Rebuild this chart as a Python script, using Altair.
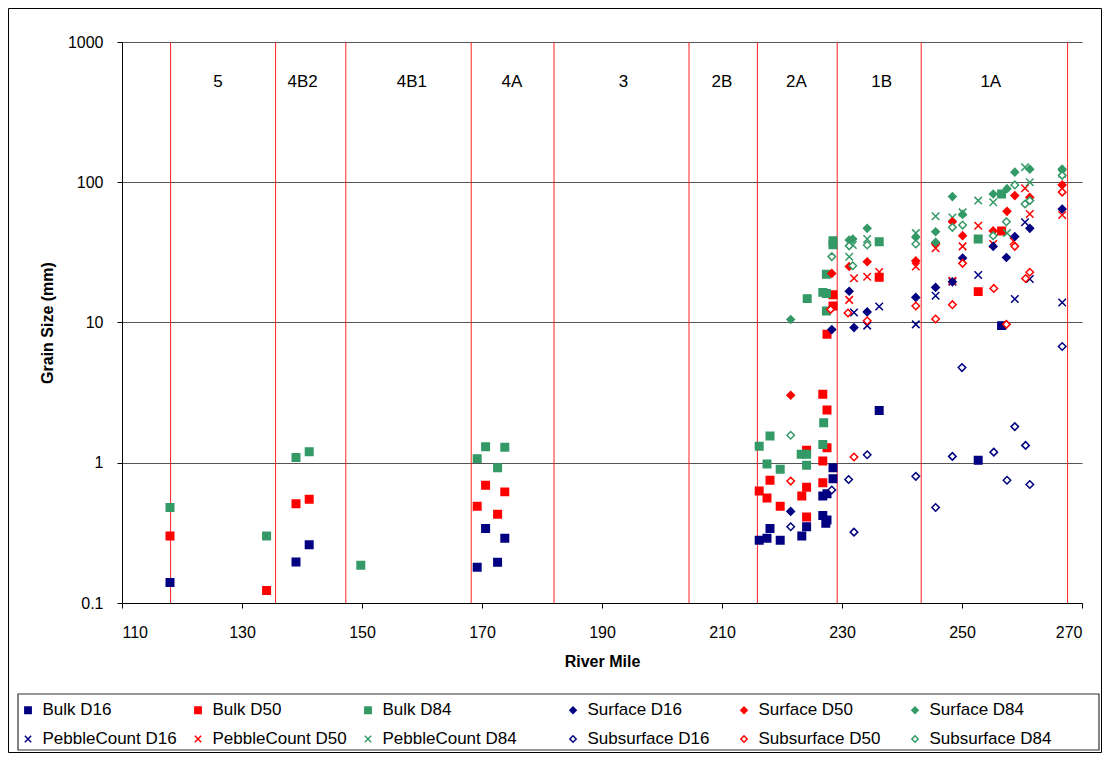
import altair as alt
import pandas as pd

FONT = "Liberation Sans"

# ---- zone boundaries and labels ----
zone_bounds = [118.1, 135.6, 147.3, 168.2, 182.0, 204.5, 215.9, 229.2, 243.2, 267.6]
zone_names = ["5", "4B2", "4B1", "4A", "3", "2B", "2A", "1B", "1A"]
zone_label_mile = [126.0, 140.1, 158.3, 175.0, 193.6, 210.0, 222.4, 236.6, 254.8]

# ---- series data (river mile, grain size mm) ----
bulk_d16_mile = [118.0, 139.0, 141.2, 169.2, 170.6, 172.6, 173.8, 216.2, 217.5, 218.0, 219.7, 223.3, 224.1,
                 226.8, 227.5, 226.8, 227.5, 227.3, 228.5, 228.5, 236.2, 252.7, 256.6]
bulk_d16_mm = [0.14, 0.196, 0.26, 0.18, 0.34, 0.195, 0.29, 0.28, 0.29, 0.34, 0.28, 0.30, 0.35,
               0.58, 0.60, 0.42, 0.39, 0.37, 0.92, 0.77, 2.36, 1.04, 9.5]

bulk_d50_mile = [118.0, 134.1, 139.0, 141.2, 169.2, 170.6, 172.6, 173.8, 216.2, 217.5, 218.0, 219.7, 223.3,
                 224.1, 224.1, 224.1, 226.8, 227.5, 227.5, 226.8, 226.8, 227.5, 228.5, 228.5, 236.2, 252.7, 256.6]
bulk_d50_mm = [0.30, 0.123, 0.51, 0.55, 0.49, 0.69, 0.43, 0.62, 0.63, 0.56, 0.75, 0.49, 0.58,
               0.67, 1.23, 0.41, 3.08, 2.38, 1.28, 1.03, 0.72, 8.25, 15.8, 13.1, 21.0, 16.6, 45.0]

bulk_d84_mile = [118.0, 134.1, 139.0, 141.2, 149.8, 169.2, 170.6, 172.6, 173.8, 216.2, 217.5, 218.0, 219.7,
                 223.2, 224.1, 224.1, 226.8, 226.95, 224.2, 226.8, 227.4, 227.4, 227.4, 228.5, 228.5,
                 236.2, 252.7, 256.6]
bulk_d84_mm = [0.48, 0.30, 1.09, 1.20, 0.186, 1.07, 1.30, 0.92, 1.29, 1.31, 0.98, 1.55, 0.90,
               1.15, 1.15, 0.96, 1.35, 1.93, 14.8, 16.4, 16.1, 22.1, 12.1, 38.3, 35.8,
               37.6, 39.4, 82.5]

surf_d16_mile = [221.45, 228.3, 231.2, 232.0, 234.2, 242.3, 245.6, 248.4, 250.1, 255.2, 257.4, 258.8, 261.3, 266.7]
surf_d16_mm = [0.45, 8.9, 16.7, 9.2, 11.9, 15.1, 17.8, 19.5, 28.8, 34.9, 29.1, 41.0, 46.9, 64.5]

surf_d50_mile = [221.45, 228.3, 231.2, 234.2, 242.3, 245.6, 248.4, 250.1, 255.2, 257.5, 258.8, 261.3, 266.7]
surf_d50_mm = [3.03, 22.4, 25.1, 27.1, 27.5, 36.5, 52.3, 41.6, 45.0, 62.0, 80.3, 78.0, 95.7]

surf_d84_mile = [221.45, 231.2, 231.8, 234.2, 242.3, 245.6, 245.6, 248.4, 250.1, 255.2, 257.5, 258.8, 261.3, 266.7]
surf_d84_mm = [10.5, 38.7, 39.4, 46.9, 40.5, 44.4, 37.3, 79.0, 59.0, 82.5, 90.0, 118.0, 124.0, 124.0]

peb_d16_mile = [232.0, 234.2, 236.2, 242.3, 245.6, 248.4, 252.7, 258.8, 260.5, 261.3, 266.7]
peb_d16_mm = [11.8, 9.5, 13.0, 9.7, 15.5, 19.5, 21.8, 14.7, 51.8, 20.4, 13.9]

peb_d50_mile = [231.2, 232.0, 234.2, 236.2, 242.3, 245.6, 248.4, 250.1, 252.7, 255.2, 258.6, 260.5, 261.3, 266.7]
peb_d50_mm = [14.5, 20.7, 21.2, 22.9, 25.1, 33.8, 19.8, 34.9, 49.0, 36.3, 38.0, 90.6, 59.4, 58.4]

peb_d84_mile = [231.2, 231.8, 234.2, 242.3, 245.6, 248.4, 250.1, 252.7, 255.2, 257.5, 260.5, 261.3, 266.7]
peb_d84_mm = [29.4, 35.7, 39.4, 43.4, 57.2, 56.0, 61.0, 74.0, 72.0, 43.4, 128.0, 100.0, 115.0]

sub_d16_mile = [221.45, 228.3, 231.1, 232.0, 234.2, 242.3, 245.6, 248.4, 250.0, 255.3, 257.5, 258.8, 260.6, 261.3, 266.7]
sub_d16_mm = [0.35, 0.64, 0.76, 0.32, 1.14, 0.80, 0.48, 1.11, 4.77, 1.19, 0.75, 1.81, 1.33, 0.70, 6.74]

sub_d50_mile = [221.45, 228.1, 231.0, 232.0, 234.2, 242.3, 245.6, 248.4, 250.1, 255.3, 257.4, 258.8, 260.6, 261.3, 266.7]
sub_d50_mm = [0.74, 12.4, 11.7, 1.10, 10.3, 13.1, 10.6, 13.4, 26.4, 17.5, 9.7, 34.9, 20.6, 22.8, 85.0]

sub_d84_mile = [221.45, 228.3, 231.2, 231.8, 234.2, 242.3, 248.4, 250.1, 255.2, 257.4, 258.8, 260.5, 261.3, 266.7]
sub_d84_mm = [1.57, 29.5, 35.2, 25.4, 35.7, 36.3, 47.7, 49.5, 41.6, 52.3, 95.7, 70.0, 74.0, 112.0]

NAVY, RED, GREEN = "#000080", "#FF0000", "#339966"
XPATH = "M-1,-1L1,1M-1,1L1,-1"

seriesA = [
    ("Bulk D16", bulk_d16_mile, bulk_d16_mm, NAVY, "square", NAVY),
    ("Bulk D50", bulk_d50_mile, bulk_d50_mm, RED, "square", RED),
    ("Bulk D84", bulk_d84_mile, bulk_d84_mm, GREEN, "square", GREEN),
    ("PebbleCount D16", peb_d16_mile, peb_d16_mm, NAVY, XPATH, NAVY),
    ("PebbleCount D50", peb_d50_mile, peb_d50_mm, RED, XPATH, RED),
    ("PebbleCount D84", peb_d84_mile, peb_d84_mm, GREEN, XPATH, GREEN),
]
seriesB = [
    ("Surface D16", surf_d16_mile, surf_d16_mm, NAVY, "diamond", NAVY),
    ("Surface D50", surf_d50_mile, surf_d50_mm, RED, "diamond", RED),
    ("Surface D84", surf_d84_mile, surf_d84_mm, GREEN, "diamond", GREEN),
    ("Subsurface D16", sub_d16_mile, sub_d16_mm, NAVY, "diamond", "white"),
    ("Subsurface D50", sub_d50_mile, sub_d50_mm, RED, "diamond", "white"),
    ("Subsurface D84", sub_d84_mile, sub_d84_mm, GREEN, "diamond", "white"),
]


def frame(series):
    rows = []
    for name, miles, mms, _, _, _ in series:
        for m, v in zip(miles, mms):
            rows.append({"series": name, "mile": m, "mm": v})
    return pd.DataFrame(rows)


X_SCALE = alt.Scale(domain=[110, 270], nice=False, zero=False)
Y_SCALE = alt.Scale(type="log", domain=[0.1, 1000], nice=False)

x_axis = alt.Axis(values=list(range(110, 271, 20)), grid=False, tickSize=5, labelPadding=16,
                  title="River Mile", titlePadding=13)
y_axis = alt.Axis(values=[0.1, 1, 10, 100, 1000], format="~g", grid=True, gridColor="#555555",
                  gridWidth=1, tickSize=5, labelPadding=14, title="Grain Size (mm)", titlePadding=12)


def point_layer(series, legend_x, col_pad):
    names = [s[0] for s in series]
    leg = alt.Legend(title=None, orient="none", legendX=legend_x, legendY=659.5, columns=3,
                     direction="horizontal",
                     columnPadding=col_pad, rowPadding=11, gridAlign="all", padding=0,
                     symbolSize=40, symbolStrokeWidth=1.5, labelFont=FONT, labelFontSize=17,
                     labelColor="black", labelOffset=6, labelLimit=300)
    return alt.Chart(frame(series)).mark_point(size=56, strokeWidth=1.5, opacity=1).encode(
        x=alt.X("mile:Q", scale=X_SCALE, axis=x_axis),
        y=alt.Y("mm:Q", scale=Y_SCALE, axis=y_axis),
        stroke=alt.Stroke("series:N", scale=alt.Scale(domain=names, range=[s[3] for s in series]), legend=leg),
        shape=alt.Shape("series:N", scale=alt.Scale(domain=names, range=[s[4] for s in series]), legend=leg),
        fill=alt.Fill("series:N", scale=alt.Scale(domain=names, range=[s[5] for s in series]), legend=leg),
    )


zones_df = pd.DataFrame({"bound": zone_bounds})
labels_df = pd.DataFrame({"name": zone_names, "mile": zone_label_mile})
one = pd.DataFrame({"a": [0]})

outer = alt.Chart(one).mark_rect(fill="transparent", stroke="black", strokeWidth=1).encode(
    x=alt.value(-113.5), x2=alt.value(979.5), y=alt.value(-33.5), y2=alt.value(710.5))
legend_box = alt.Chart(one).mark_rect(fill="transparent", stroke="#333333", strokeWidth=1.2).encode(
    x=alt.value(-104), x2=alt.value(977), y=alt.value(652), y2=alt.value(708))

rules = alt.Chart(zones_df).mark_rule(color="#FF2020", strokeWidth=1).encode(
    x=alt.X("bound:Q", scale=X_SCALE, axis=x_axis))
texts = alt.Chart(labels_df).mark_text(font=FONT, fontSize=17, color="black", baseline="middle").encode(
    x=alt.X("mile:Q", scale=X_SCALE, axis=x_axis), y=alt.value(40), text="name:N")

chart = alt.layer(
    outer, legend_box, rules, texts,
    point_layer(seriesA, -102.5, 12), point_layer(seriesB, 442.5, 26)
).resolve_scale(
    stroke="independent", shape="independent", fill="independent"
).properties(
    width=960, height=561,
    padding={"left": 114, "top": 34, "right": 20, "bottom": 150},
    autosize=alt.AutoSizeParams(type="none"),
    background="white",
).configure_view(stroke=None).configure_axis(
    labelFont=FONT, labelFontSize=16, labelColor="black",
    titleFont=FONT, titleFontSize=16, titleFontWeight="bold", titleColor="black",
    domainColor="black", tickColor="black", domainWidth=1,
)

chart.save("out.html", embed_options={"renderer": "svg", "actions": False})
